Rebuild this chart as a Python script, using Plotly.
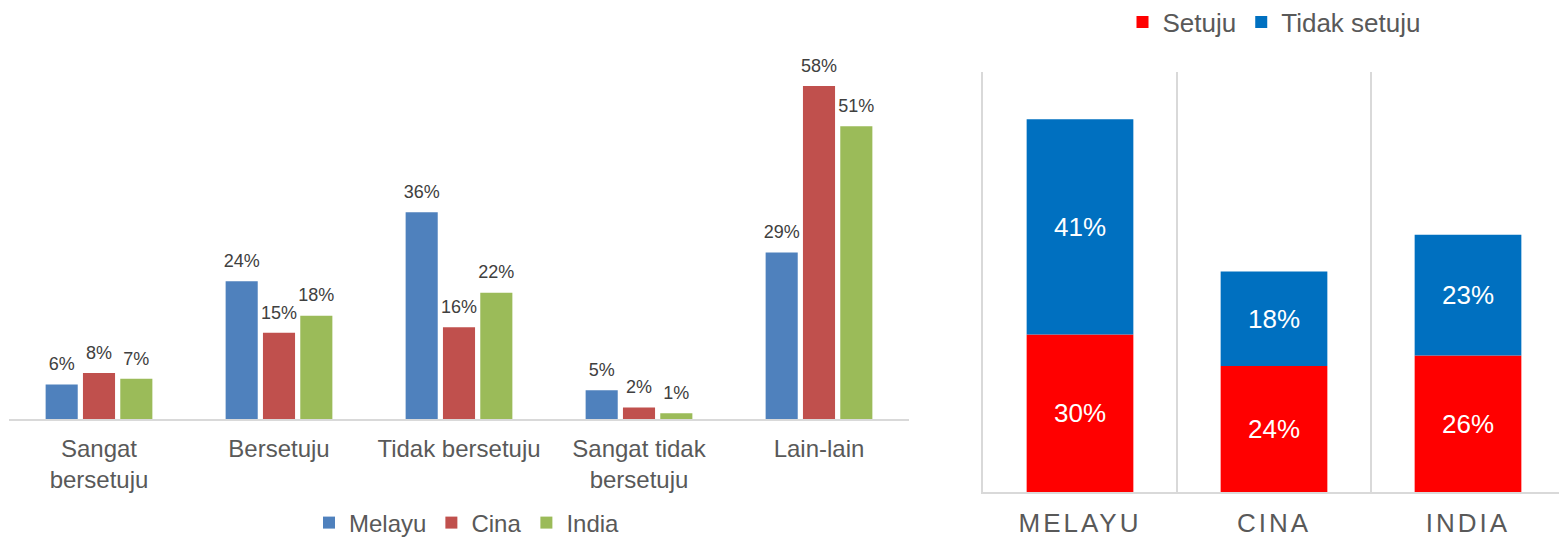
import plotly.graph_objects as go

# Left chart data
categories = ["Sangat<br>bersetuju", "Bersetuju", "Tidak bersetuju", "Sangat tidak<br>bersetuju", "Lain-lain"]
melayu = [6, 24, 36, 5, 29]
cina = [8, 15, 16, 2, 58]
india = [7, 18, 22, 1, 51]

# Right chart data
groups = ["MELAYU", "CINA", "INDIA"]
setuju = [30, 24, 26]
tidak_setuju = [41, 18, 23]

FONT = "Liberation Sans, Arial, sans-serif"
LBL = "#404040"
AX = "#595959"
# page is drawn with an 8px body margin; work in page pixels and convert
OFF = 8
W, H = 1567 - OFF, 538 - OFF


def px(x):
    return (x - OFF) / W


def py(y):
    return (H - (y - OFF)) / H


fig = go.Figure()

left_series = [("Melayu", melayu, "#4F81BD"), ("Cina", cina, "#C0504D"), ("India", india, "#9BBB59")]
for name, vals, col in left_series:
    fig.add_trace(go.Bar(
        x=categories, y=vals, name=name, marker=dict(color=col, line=dict(width=0)),
        xaxis="x", yaxis="y", legend="legend", offsetgroup=name, hoverinfo="skip",
    ))
for name, vals, col in left_series:
    fig.add_trace(go.Scatter(
        x=categories, y=vals, mode="markers+text", showlegend=False,
        marker=dict(size=14, color="rgba(0,0,0,0)"),
        text=[f"{v}%" for v in vals], textposition="top center",
        textfont=dict(size=18, color=LBL, family=FONT), cliponaxis=False,
        xaxis="x", yaxis="y", offsetgroup=name, hoverinfo="skip",
    ))

for name, vals, col in [("Setuju", setuju, "#FF0000"), ("Tidak setuju", tidak_setuju, "#0070C0")]:
    fig.add_trace(go.Bar(
        x=[f'<span style="letter-spacing:3px">{g}</span>' for g in groups], y=vals, name=name,
        marker=dict(color=col, line=dict(width=0)),
        text=[f"{v}%" for v in vals], textposition="inside", insidetextanchor="middle",
        textangle=0, textfont=dict(size=26, color="white", family=FONT),
        xaxis="x2", yaxis="y2", legend="legend2", width=0.55, offsetgroup="r",
        hoverinfo="skip",
    ))
fig.data[-1].update(base=setuju)

fig.update_layout(
    width=W, height=H,
    margin=dict(l=0, r=0, t=0, b=0, autoexpand=False),
    paper_bgcolor="white", plot_bgcolor="white",
    font=dict(family=FONT, color=AX),
    barmode="group", scattermode="group",
    bargap=0.378, bargroupgap=0.14,
    xaxis=dict(domain=[px(9), px(909)], anchor="y", showline=True, linecolor="#d9d9d9",
               linewidth=2, showgrid=False, ticks="", automargin=False, zeroline=False,
               ticklabelstandoff=7, tickfont=dict(size=24, color=AX, family=FONT)),
    yaxis=dict(domain=[py(419), py(63)], range=[0, 62], visible=False, showgrid=False,
               automargin=False, anchor="x"),
    xaxis2=dict(domain=[px(983), px(1565)], anchor="y2", showline=True, linecolor="#d9d9d9",
                linewidth=2, showgrid=True, gridcolor="#d9d9d9", gridwidth=2, tickson="boundaries",
                ticks="", automargin=False, zeroline=False, ticklabelstandoff=7,
                tickfont=dict(size=26, color=AX, family=FONT)),
    yaxis2=dict(domain=[py(492), py(72)], range=[0, 80], showline=True, mirror=True,
                linecolor="#d9d9d9", linewidth=2, showgrid=False, zeroline=False,
                showticklabels=False, ticks="", automargin=False, anchor="x2"),
    legend=dict(orientation="h", x=px(467), xanchor="center", y=py(523), yanchor="middle",
                font=dict(size=24, color=AX, family=FONT), traceorder="normal",
                itemclick=False),
    legend2=dict(orientation="h", x=px(1274), xanchor="center", y=py(22), yanchor="middle",
                 font=dict(size=26, color=AX, family=FONT), traceorder="normal",
                 itemclick=False),
    showlegend=True,
)

fig.write_html("out.html")
